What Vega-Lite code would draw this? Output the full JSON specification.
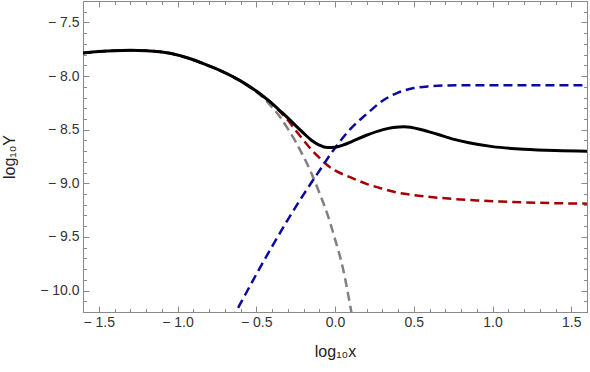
{
  "$schema": "https://vega.github.io/schema/vega-lite/v6.json",
  "autosize": "none",
  "width": 504,
  "height": 311,
  "padding": {"left": 83, "top": 1, "right": 3, "bottom": 60},
  "background": "white",
  "config": {
    "view": {"stroke": "#8a8a8a", "strokeWidth": 1},
    "axis": {"grid": false, "domain": false, "tickColor": "#8a8a8a", "labelFont": "Liberation Sans", "labelFontSize": 14, "labelColor": "#333333", "titleFont": "Liberation Sans", "titleFontSize": 16, "titleFontWeight": "normal", "titleColor": "#222222"}
  },
  "datasets": {
    "total": [
      {"x": -1.6, "y": -7.785}, {"x": -1.5, "y": -7.772}, {"x": -1.4, "y": -7.763}, {"x": -1.3, "y": -7.76},
      {"x": -1.2, "y": -7.763}, {"x": -1.1, "y": -7.776}, {"x": -1.0, "y": -7.803}, {"x": -0.9, "y": -7.848},
      {"x": -0.8, "y": -7.905}, {"x": -0.7, "y": -7.968}, {"x": -0.6, "y": -8.045}, {"x": -0.5, "y": -8.14},
      {"x": -0.45, "y": -8.195}, {"x": -0.4, "y": -8.255}, {"x": -0.35, "y": -8.322}, {"x": -0.3, "y": -8.39},
      {"x": -0.25, "y": -8.462}, {"x": -0.2, "y": -8.532}, {"x": -0.15, "y": -8.598}, {"x": -0.1, "y": -8.643},
      {"x": -0.05, "y": -8.666}, {"x": 0.0, "y": -8.664}, {"x": 0.05, "y": -8.644}, {"x": 0.1, "y": -8.615},
      {"x": 0.2, "y": -8.552}, {"x": 0.3, "y": -8.502}, {"x": 0.37, "y": -8.48}, {"x": 0.44, "y": -8.473},
      {"x": 0.55, "y": -8.5}, {"x": 0.65, "y": -8.543}, {"x": 0.75, "y": -8.588}, {"x": 0.85, "y": -8.622},
      {"x": 1.0, "y": -8.658}, {"x": 1.2, "y": -8.683}, {"x": 1.4, "y": -8.695}, {"x": 1.6, "y": -8.7}
    ],
    "red": [
      {"x": -1.6, "y": -7.785}, {"x": -1.5, "y": -7.772}, {"x": -1.4, "y": -7.763}, {"x": -1.3, "y": -7.76},
      {"x": -1.2, "y": -7.763}, {"x": -1.1, "y": -7.776}, {"x": -1.0, "y": -7.803}, {"x": -0.9, "y": -7.848},
      {"x": -0.8, "y": -7.905}, {"x": -0.7, "y": -7.968}, {"x": -0.6, "y": -8.045}, {"x": -0.5, "y": -8.14},
      {"x": -0.45, "y": -8.195}, {"x": -0.4, "y": -8.257}, {"x": -0.35, "y": -8.33}, {"x": -0.3, "y": -8.41},
      {"x": -0.25, "y": -8.505}, {"x": -0.2, "y": -8.598}, {"x": -0.15, "y": -8.685}, {"x": -0.1, "y": -8.76},
      {"x": -0.05, "y": -8.83}, {"x": 0.0, "y": -8.88}, {"x": 0.1, "y": -8.945}, {"x": 0.2, "y": -9.005},
      {"x": 0.3, "y": -9.05}, {"x": 0.4, "y": -9.088}, {"x": 0.5, "y": -9.11}, {"x": 0.7, "y": -9.14},
      {"x": 0.9, "y": -9.16}, {"x": 1.1, "y": -9.172}, {"x": 1.3, "y": -9.182}, {"x": 1.6, "y": -9.19}
    ],
    "gray": [
      {"x": -1.6, "y": -7.785}, {"x": -1.5, "y": -7.772}, {"x": -1.4, "y": -7.763}, {"x": -1.3, "y": -7.76},
      {"x": -1.2, "y": -7.763}, {"x": -1.1, "y": -7.776}, {"x": -1.0, "y": -7.803}, {"x": -0.9, "y": -7.848},
      {"x": -0.8, "y": -7.905}, {"x": -0.7, "y": -7.968}, {"x": -0.6, "y": -8.047}, {"x": -0.5, "y": -8.148},
      {"x": -0.45, "y": -8.21}, {"x": -0.4, "y": -8.29}, {"x": -0.35, "y": -8.38}, {"x": -0.3, "y": -8.49},
      {"x": -0.25, "y": -8.612}, {"x": -0.2, "y": -8.75}, {"x": -0.15, "y": -8.905}, {"x": -0.1, "y": -9.085},
      {"x": -0.05, "y": -9.28}, {"x": 0.0, "y": -9.52}, {"x": 0.05, "y": -9.79}, {"x": 0.1, "y": -10.17},
      {"x": 0.15, "y": -10.6}
    ],
    "blue": [
      {"x": -0.7, "y": -10.39}, {"x": -0.6, "y": -10.12}, {"x": -0.5, "y": -9.85}, {"x": -0.4, "y": -9.59},
      {"x": -0.3, "y": -9.34}, {"x": -0.2, "y": -9.105}, {"x": -0.1, "y": -8.885}, {"x": 0.0, "y": -8.67},
      {"x": 0.1, "y": -8.49}, {"x": 0.2, "y": -8.355}, {"x": 0.3, "y": -8.232}, {"x": 0.4, "y": -8.155},
      {"x": 0.5, "y": -8.112}, {"x": 0.6, "y": -8.095}, {"x": 0.7, "y": -8.088}, {"x": 1.0, "y": -8.085},
      {"x": 1.6, "y": -8.085}
    ]
  },
  "resolve": {"axis": {"x": "independent", "y": "independent"}},
  "layer": [
    {
      "data": {"name": "gray"},
      "mark": {"type": "line", "color": "#808080", "strokeWidth": 2.5, "strokeDash": [9, 5], "interpolate": "monotone", "clip": true},
      "encoding": {
        "x": {"field": "x", "type": "quantitative", "scale": {"domain": [-1.6, 1.6], "nice": false, "zero": false},
              "axis": {"orient": "top", "values": [-1.5, -1, -0.5, 0, 0.5, 1, 1.5], "labels": false, "title": null, "tickSize": -6}},
        "y": {"field": "y", "type": "quantitative", "scale": {"domain": [-10.2, -7.3], "nice": false, "zero": false},
              "axis": {"orient": "right", "values": [-10, -9.5, -9, -8.5, -8, -7.5], "labels": false, "title": null, "tickSize": -6}}
      }
    },
    {
      "data": {"name": "red"},
      "mark": {"type": "line", "color": "#a50000", "strokeWidth": 2.5, "strokeDash": [9, 5], "interpolate": "monotone", "clip": true},
      "encoding": {
        "x": {"field": "x", "type": "quantitative", "scale": {"domain": [-1.6, 1.6], "nice": false, "zero": false},
              "axis": {"orient": "top", "values": [-1.6, -1.4, -1.3, -1.2, -1.1, -0.9, -0.8, -0.7, -0.6, -0.4, -0.3, -0.2, -0.1, 0.1, 0.2, 0.3, 0.4, 0.6, 0.7, 0.8, 0.9, 1.1, 1.2, 1.3, 1.4, 1.6], "labels": false, "title": null, "tickSize": -3.5}},
        "y": {"field": "y", "type": "quantitative", "scale": {"domain": [-10.2, -7.3], "nice": false, "zero": false},
              "axis": {"orient": "right", "values": [-10.2, -10.1, -9.9, -9.8, -9.7, -9.6, -9.4, -9.3, -9.2, -9.1, -8.9, -8.8, -8.7, -8.6, -8.4, -8.3, -8.2, -8.1, -7.9, -7.8, -7.7, -7.6, -7.4, -7.3], "labels": false, "title": null, "tickSize": -3.5}}
      }
    },
    {
      "data": {"name": "blue"},
      "mark": {"type": "line", "color": "#0a0aa0", "strokeWidth": 2.5, "strokeDash": [9, 5], "interpolate": "monotone", "clip": true},
      "encoding": {
        "x": {"field": "x", "type": "quantitative", "scale": {"domain": [-1.6, 1.6], "nice": false, "zero": false},
              "axis": {"orient": "bottom", "values": [-1.6, -1.4, -1.3, -1.2, -1.1, -0.9, -0.8, -0.7, -0.6, -0.4, -0.3, -0.2, -0.1, 0.1, 0.2, 0.3, 0.4, 0.6, 0.7, 0.8, 0.9, 1.1, 1.2, 1.3, 1.4, 1.6], "labels": false, "title": null, "tickSize": -3.5}},
        "y": {"field": "y", "type": "quantitative", "scale": {"domain": [-10.2, -7.3], "nice": false, "zero": false},
              "axis": {"orient": "left", "values": [-10.2, -10.1, -9.9, -9.8, -9.7, -9.6, -9.4, -9.3, -9.2, -9.1, -8.9, -8.8, -8.7, -8.6, -8.4, -8.3, -8.2, -8.1, -7.9, -7.8, -7.7, -7.6, -7.4, -7.3], "labels": false, "title": null, "tickSize": -3.5}}
      }
    },
    {
      "data": {"name": "total"},
      "mark": {"type": "line", "color": "#000000", "strokeWidth": 3, "interpolate": "monotone", "clip": true},
      "encoding": {
        "x": {"field": "x", "type": "quantitative", "scale": {"domain": [-1.6, 1.6], "nice": false, "zero": false},
              "axis": {"orient": "bottom", "values": [-1.5, -1, -0.5, 0, 0.5, 1, 1.5], "labelExpr": "(datum.value < 0 ? '− ' : '') + format(abs(datum.value), '.1f')", "tickSize": -6, "labelPadding": 9, "title": "log₁₀x", "titlePadding": 14}},
        "y": {"field": "y", "type": "quantitative", "scale": {"domain": [-10.2, -7.3], "nice": false, "zero": false},
              "axis": {"orient": "left", "values": [-10, -9.5, -9, -8.5, -8, -7.5], "labelExpr": "(datum.value < 0 ? '− ' : '') + format(abs(datum.value), '.1f')", "tickSize": -6, "labelPadding": 10, "title": "log₁₀Y", "titlePadding": 22}}
      }
    }
  ]
}
